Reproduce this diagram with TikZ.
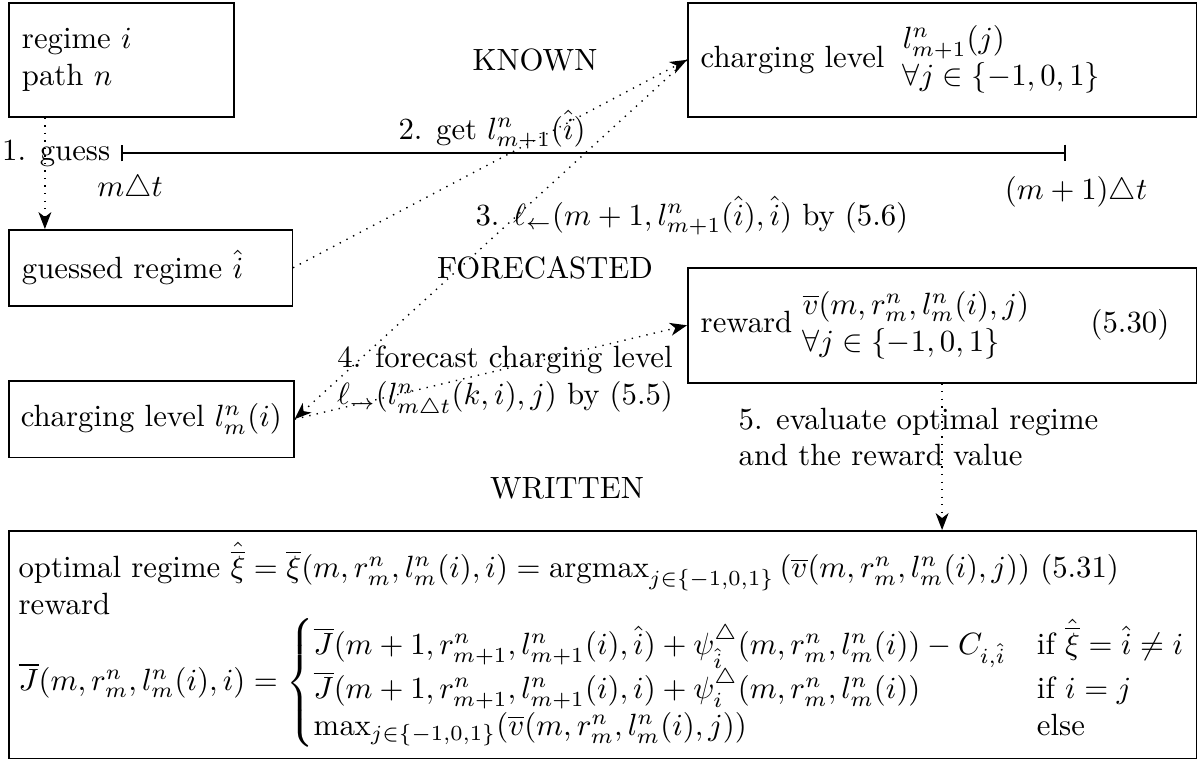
\documentclass[tikz,border=0pt]{standalone}
\usepackage{amsmath}
\usetikzlibrary{arrows.meta}
\begin{document}
\begin{tikzpicture}[x=0.3252pt,y=-0.3252pt,
  box/.style={draw,line width=0.5pt,anchor=north west,align=left,inner xsep=4.3pt,inner ysep=0pt},
  con/.style={dotted,line width=0.45pt,-{Stealth[length=5.5pt,width=4.2pt,inset=1.6pt]}},
  lbl/.style={inner sep=0pt},
  tick/.style={line width=0.6pt,{Bar[width=5.5pt]}-{Bar[width=5.5pt]}}]
\useasboundingbox (0,0) rectangle (1199,760);
% boxes
\node[box,text width=64.6pt,minimum height=37.1pt] (regime) at (8,2) {regime $i$\\path $n$};
\node[box,text width=157pt,minimum height=37.1pt,inner xsep=4.2pt] (top) at (687,2)
  {charging level\hspace{6pt}{$\begin{array}{@{}l@{}}l^n_{m+1}(j)\\ \forall j\in\{-1,0,1\}\end{array}$}};
\node[box,text width=83.6pt,minimum height=24.7pt] (guessed) at (8,229) {guessed regime $\hat{i}$};
\node[box,text width=157pt,minimum height=37.4pt,inner xsep=4.2pt] (reward) at (687,267)
  {reward\ {$\begin{array}{@{}l@{}}\overline{v}(m,r^n_m,l^n_m(i),j)\\ \forall j\in\{-1,0,1\}\end{array}$}\hspace{20pt}(5.30)};
\node[draw,line width=0.5pt,anchor=north west,inner xsep=3.5pt,inner ysep=0pt,minimum width=92.7pt,minimum height=25pt] (lbox) at (8,380) {charging level $l^n_m(i)$};
\node[box,text width=379.8pt,minimum height=74.1pt,inner xsep=3.2pt] (bottom) at (8,530)
  {optimal regime $\hat{\overline{\xi}}=\overline{\xi}(m,r^n_m,l^n_m(i),i)=\operatorname{argmax}_{j\in\{-1,0,1\}}\left(\overline{v}(m,r^n_m,l^n_m(i),j)\right)$ (5.31)\\
   reward\\
   $\overline{J}(m,r^n_m,l^n_m(i),i)=\left\{\begin{array}{@{}l@{\quad}l@{}}
     \overline{J}(m+1,r^n_{m+1},l^n_{m+1}(i),\hat{i})+\psi^{\triangle}_{\hat{i}}(m,r^n_m,l^n_m(i))-C_{i,\hat{i}} & \text{if } \hat{\overline{\xi}}=\hat{i}\neq i\\
     \overline{J}(m+1,r^n_{m+1},l^n_{m+1}(i),i)+\psi^{\triangle}_{i}(m,r^n_m,l^n_m(i)) & \text{if } i=j\\
     \max_{j\in\{-1,0,1\}}(\overline{v}(m,r^n_m,l^n_m(i),j)) & \text{else}
   \end{array}\right.$};
% timeline
\coordinate (t0) at (121,153);
\coordinate (t1) at (1066,153);
\draw[tick] (t0) -- (t1);
\node[anchor=east] (guess) at (t0) {1. guess};
\node[lbl,anchor=base] (mt) at (130,196) {$m\triangle t$};
\node[lbl,anchor=base] (m1t) at (1076,199) {$(m+1)\triangle t$};
% labels
\node[lbl,anchor=base] (known) at (535,70) {KNOWN};
\node[lbl,anchor=base west] (get) at (398,139) {2. get $l^n_{m+1}(\hat{i})$};
\node[lbl,anchor=base west] (back) at (475,225) {3. $\ell_{\leftarrow}(m+1,l^n_{m+1}(\hat{i}),\hat{i})$ by (5.6)};
\node[lbl,anchor=base] (fore) at (545,278) {FORECASTED};
\node[lbl,align=center] (fc) at (505,382) {4. forecast charging level\\ $\ell_{\to}(l^n_{m\triangle t}(k,i),j)$ by (5.5)};
\node[lbl,align=left,anchor=west] (ev) at (738,437) {5. evaluate optimal regime\\ and the reward value};
\node[lbl,anchor=base] (written) at (567,498) {WRITTEN};
% connectors
\coordinate (a1) at ([xshift=12pt]regime.south west);
\draw[con] (a1) -- (a1 |- guessed.north);
\draw[con] (guessed.east) -- (top.west);
\draw[con] (top.west) -- (lbox.east);
\draw[con] (lbox.east) -- (reward.west);
\draw[con] (reward.south) -- (reward.south |- bottom.north);
\end{tikzpicture}
\end{document}
